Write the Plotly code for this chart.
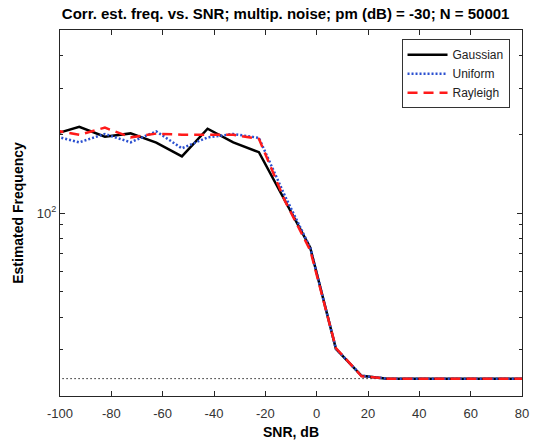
import plotly.graph_objects as go
import numpy as np

snr = [-102.5, -92.5, -82.5, -72.5, -62.5, -52.5, -42.5, -32.5, -22.5, -12.5,
       -2.5, 7.5, 17.5, 27.5, 37.5, 47.5, 57.5, 67.5, 77.5, 87.5]
gaussian = [199.6, 213.6, 195.7, 201.4, 185.7, 164.4, 209.9, 186.0, 170.7, 112.0,
            73.7, 30.3, 23.9, 23.3, 23.3, 23.3, 23.3, 23.3, 23.3, 23.3]
uniform = [197.4, 186.2, 200.4, 186.2, 205.0, 176.6, 194.5, 200.4, 193.6, 117.0,
           73.7, 30.3, 23.9, 23.3, 23.3, 23.3, 23.3, 23.3, 23.3, 23.3]
rayleigh = [207.0, 199.0, 211.8, 194.5, 201.0, 199.0, 199.0, 199.0, 192.0, 112.0,
            72.0, 30.5, 23.8, 23.3, 23.3, 23.3, 23.3, 23.3, 23.3, 23.3]
true_freq = 23.3
x_range = [-100, 80]
y_range = [20, 500]
x_ticks = [-100, -80, -60, -40, -20, 0, 20, 40, 60, 80]
x_ticktext = ["-100", "-80", "-60", "-40", "-20", "0", "20", "40", "60", "80"]
y_major = [100]
y_major_text = ["10<sup>2</sup>"]
y_minor = [30, 40, 50, 60, 70, 80, 90, 200, 300, 400]

FONT = "Liberation Sans, Arial, sans-serif"
AX = "#262626"

fig = go.Figure()
fig.add_trace(go.Scatter(x=[-110, 90], y=[true_freq, true_freq], mode="lines",
                         line=dict(color="#222222", width=1, dash="1.5px,2.5px"),
                         showlegend=False, hoverinfo="skip"))
fig.add_trace(go.Scatter(x=snr, y=gaussian, mode="lines", name="Gaussian",
                         line=dict(color="black", width=2.5)))
fig.add_trace(go.Scatter(x=snr, y=uniform, mode="lines", name="Uniform",
                         line=dict(color="#2b50d0", width=2.5, dash="2px,2px")))
fig.add_trace(go.Scatter(x=snr, y=rayleigh, mode="lines", name="Rayleigh",
                         line=dict(color="#ff1a1a", width=2.5, dash="10px,6px")))

fig.update_layout(
    width=539, height=447,
    margin=dict(l=60, r=10, t=30, b=50),
    paper_bgcolor="white", plot_bgcolor="white",
    font=dict(family=FONT, size=13, color="#333333"),
    title=dict(text="<b>Corr. est. freq. vs. SNR; multip. noise; pm (dB) = -30; N = 50001</b>",
               x=0.53, xanchor="center", y=0.97, yanchor="middle",
               font=dict(size=15, color="black")),
    showlegend=True,
    legend=dict(x=0.973, xanchor="right", y=0.975, yanchor="top",
                bgcolor="white", bordercolor="#333333", borderwidth=1,
                font=dict(size=12, color="#222222"),
                tracegroupgap=0, itemwidth=40),
)
fig.update_xaxes(range=x_range, tickvals=x_ticks, ticktext=x_ticktext,
                 ticks="inside", ticklen=5,
                 tickcolor=AX, showline=True, linecolor=AX, linewidth=1,
                 mirror="ticks", showgrid=False, zeroline=False,
                 ticklabelstandoff=5,
                 title=dict(text="<b>SNR, dB</b>", font=dict(size=14, color="black"),
                            standoff=7))
fig.update_yaxes(type="log", range=[np.log10(y_range[0]), np.log10(y_range[1])],
                 tickvals=y_major, ticktext=y_major_text, ticks="inside", ticklen=5,
                 tickcolor=AX, showline=True, linecolor=AX, linewidth=1,
                 minor=dict(tickvals=y_minor, ticks="inside", ticklen=3, tickcolor=AX),
                 mirror="ticks", showgrid=False, zeroline=False,
                 title=dict(text="<b>Estimated Frequency</b>", font=dict(size=14, color="black"),
                            standoff=9))

fig.write_html("out.html")
